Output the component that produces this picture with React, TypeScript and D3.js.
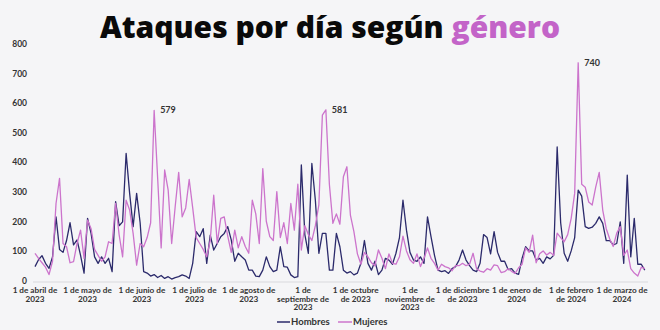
import React from "react";
import * as d3 from "d3";

const startDate = new Date(2023, 3, 1);
const stepDays = 2;

const hombres = [
  52, 75, 89, 63, 46, 85, 220, 110, 100, 140,
  200, 125, 142, 90, 30, 215, 164, 85, 63, 85,
  63, 80, 35, 271, 190, 203, 434, 300, 187, 299,
  200, 35, 30, 20, 25, 15, 22, 12, 18, 10,
  15, 18, 24, 20, 12, 63, 170, 153, 180, 63,
  158, 108, 130, 153, 164, 187, 142, 70, 97, 85,
  74, 40, 40, 20, 18, 40, 85, 52, 35, 40,
  119, 52, 50, 24, 15, 18, 395, 160, 97, 400,
  276, 97, 164, 164, 40, 40, 164, 119, 40, 30,
  35, 24, 30, 63, 140, 63, 40, 70, 25, 40,
  80, 74, 60, 97, 150, 276, 175, 100, 74, 70,
  85, 63, 220, 153, 90, 40, 35, 38, 29, 45,
  52, 74, 108, 74, 55, 40, 35, 63, 160, 150,
  95, 170, 100, 70, 70, 42, 45, 30, 26, 80,
  119, 105, 105, 74, 80, 63, 85, 78, 90, 456,
  200, 97, 70, 105, 150, 310, 290, 187, 181, 185,
  198, 220, 198, 140, 140, 125, 130, 203, 63, 361,
  85, 215, 60, 60, 40,
];

const mujeres = [
  97, 80, 65, 50, 25, 70, 265, 350, 130, 119,
  65, 69, 130, 175, 80, 209, 180, 110, 90, 70,
  85, 136, 130, 265, 160, 85, 276, 243, 164, 57,
  130, 119, 150, 200, 579, 350, 115, 378, 310, 130,
  254, 370, 220, 250, 346, 250, 150, 130, 110, 85,
  140, 293, 130, 215, 220, 155, 100, 175, 115, 153,
  120, 97, 276, 230, 130, 383, 205, 153, 140, 305,
  150, 200, 130, 265, 175, 330, 108, 190, 160, 140,
  190, 260, 563, 581, 330, 198, 230, 195, 355, 389,
  226, 170, 95, 60, 100, 85, 65, 55, 108, 80,
  45, 95, 63, 60, 85, 155, 105, 75, 63, 95,
  52, 80, 115, 80, 63, 40, 60, 52, 48, 38,
  55, 55, 63, 55, 60, 97, 45, 37, 33, 45,
  40, 58, 55, 32, 35, 45, 36, 29, 48, 60,
  115, 100, 158, 65, 95, 105, 91, 100, 90, 165,
  150, 136, 160, 215, 300, 740, 330, 320, 270, 260,
  320, 370, 243, 180, 145, 120, 165, 187, 90, 108,
  45, 30, 20, 50, 45,
];

const yTicks = [0, 100, 200, 300, 400, 500, 600, 700, 800];

const monthTicks = [
  new Date(2023, 3, 1), new Date(2023, 4, 1), new Date(2023, 5, 1),
  new Date(2023, 6, 1), new Date(2023, 7, 1), new Date(2023, 8, 1),
  new Date(2023, 9, 1), new Date(2023, 10, 1), new Date(2023, 11, 1),
  new Date(2024, 0, 1), new Date(2024, 1, 1), new Date(2024, 2, 1),
];

const monthLabels = [
  ["1 de abril de", "2023"],
  ["1 de mayo de", "2023"],
  ["1 de junio de", "2023"],
  ["1 de julio de", "2023"],
  ["1 de agosto de", "2023"],
  ["1 de", "septiembre de", "2023"],
  ["1 de octubre", "de 2023"],
  ["1 de", "noviembre de", "2023"],
  ["1 de diciembre", "de 2023"],
  ["1 de enero de", "2024"],
  ["1 de febrero", "de 2024"],
  ["1 de marzo de", "2024"],
];

const annotatedIndices = [34, 83, 155];

const seriesNames = ["Hombres", "Mujeres"];
const NAVY = "#2b2a6b";
const PINK = "#cc74cc";
const TEXT = "#333333";
const FONT = "Lato, 'Open Sans', sans-serif";
const TITLE_FONT = "'Open Sans', Lato, sans-serif";

export default function App() {
  const width = 660;
  const height = 330;
  const dates = hombres.map((_, i) => d3.timeDay.offset(startDate, i * stepDays));

  const x = d3
    .scaleTime()
    .domain([new Date(2023, 3, 1), new Date(2024, 2, 1)])
    .range([35, 622]);
  const y = d3.scaleLinear().domain([0, 800]).range([282, 45]);

  const line = d3
    .line<number>()
    .x((_, i) => x(dates[i]))
    .y((d) => y(d));

  return (
    <svg
      width={width}
      height={height}
      style={{ position: "absolute", left: 0, top: 0, background: "#f5f5f7" }}
      fontFamily={FONT}
    >
      <rect x={0} y={0} width={width} height={height} fill="#f5f5f7" />
      <text
        x={330}
        y={38}
        textAnchor="middle"
        fontSize={30}
        fontWeight={800}
        fontFamily={TITLE_FONT}
        fill="#0a0a0a"
      >
        Ataques por día según <tspan fill="#c364c8">género</tspan>
      </text>

      {yTicks.map((t) => (
        <text
          key={t}
          x={27}
          y={y(t) - 1}
          dy="0.35em"
          textAnchor="end"
          fontSize={8.5}
          fontWeight={700}
          fill={TEXT}
        >
          {t}
        </text>
      ))}

      <line x1={33} x2={648} y1={y(0)} y2={y(0)} stroke="#d9d9dd" strokeWidth={1} />

      {monthTicks.map((d, i) => (
        <text
          key={i}
          x={x(d)}
          y={293}
          textAnchor="middle"
          fontSize={8.2}
          fontWeight={700}
          fill={TEXT}
        >
          {monthLabels[i].map((s, j) => (
            <tspan key={j} x={x(d)} dy={j === 0 ? 0 : 8.6}>
              {s}
            </tspan>
          ))}
        </text>
      ))}

      <path d={line(hombres) || ""} fill="none" stroke={NAVY} strokeWidth={1.3} strokeLinejoin="round" />
      <path d={line(mujeres) || ""} fill="none" stroke={PINK} strokeWidth={1.3} strokeLinejoin="round" />

      {annotatedIndices.map((i) => (
        <text
          key={i}
          x={x(dates[i]) + 6}
          y={y(mujeres[i]) + 3}
          fontSize={9}
          fontWeight={700}
          fill={TEXT}
        >
          {mujeres[i]}
        </text>
      ))}

      <g fontSize={9.5} fontWeight={700} fill={TEXT}>
        <line x1={277} x2={290} y1={322} y2={322} stroke={NAVY} strokeWidth={1.5} />
        <text x={291} y={322} dy="0.35em">{seriesNames[0]}</text>
        <line x1={338} x2={352} y1={322} y2={322} stroke={PINK} strokeWidth={1.5} />
        <text x={353} y={322} dy="0.35em">{seriesNames[1]}</text>
      </g>
    </svg>
  );
}
